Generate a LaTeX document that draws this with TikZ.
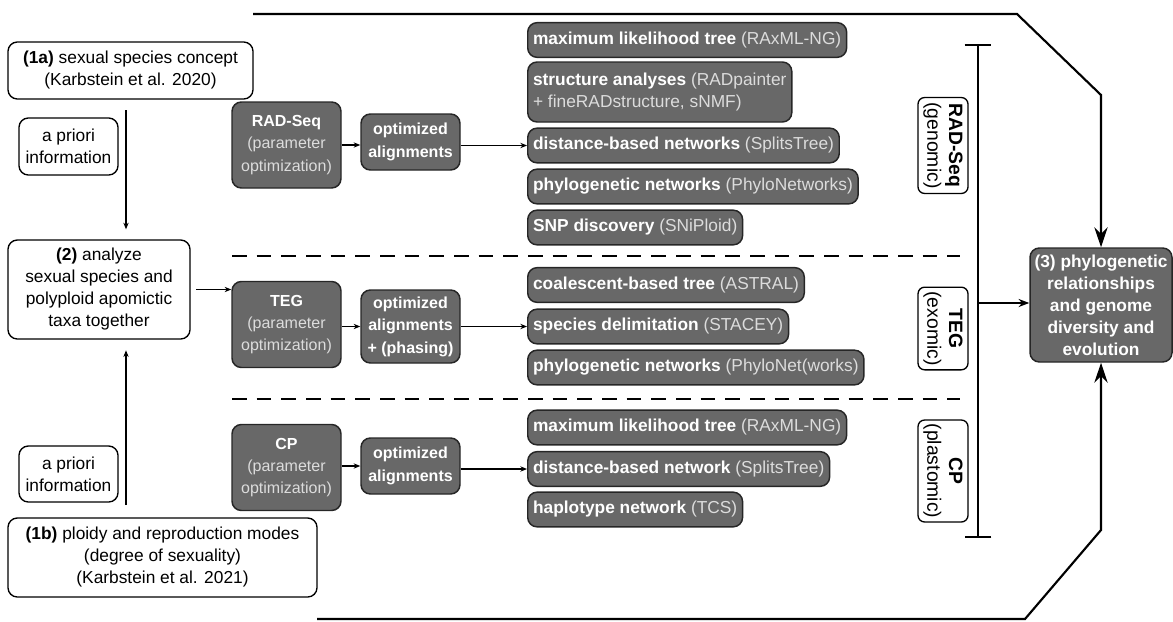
\documentclass[tikz,border=0pt]{standalone}
\usepackage{fontspec}
\setmainfont{Liberation Sans}
\usetikzlibrary{arrows.meta,positioning}
\definecolor{boxgray}{RGB}{104,104,104}
\definecolor{softgray}{RGB}{220,220,220}
\newcommand{\prog}[1]{\textcolor{softgray}{\mdseries #1}}

\begin{document}
\begin{tikzpicture}[x = 0.75pt, y = -0.75pt, > = {Stealth[length=5pt,width=4pt]},
	every node/.style = {font=\fontsize{13}{16.5}\selectfont},
	whitebox/.style = {draw, rounded corners=7pt, line width=1pt, fill=white, align=center, inner sep=2pt},
	graybox/.style = {draw=black!85, rounded corners=7pt, line width=1.1pt, fill=boxgray, text=white, align=center, inner sep=2pt, font=\fontsize{13}{16.5}\selectfont\bfseries},
	stagebox/.style = {graybox, font=\fontsize{12}{16.8}\selectfont\bfseries},
	toolbox/.style = {graybox, anchor=west, align=left, minimum height=26pt, inner xsep=4pt},
	tagbox/.style = {whitebox, rotate=-90, rounded corners=5pt, minimum height=37.5pt, font=\fontsize{14.5}{16.3}\selectfont},
	link/.style = {->, line width=0.8pt},
	sep/.style = {line width=1.5pt, dash pattern=on 11pt off 7.5pt},
	big/.style = {line width=1.6pt, -{Stealth[length=15pt,width=10pt,inset=5pt]}}]
	\useasboundingbox (0,0) rectangle (1173,621);
	% left column
	\node[whitebox, minimum width=183.75pt, minimum height=42.75pt] (s1a) at (130.5,70.5) {\textbf{(1a)} sexual species concept\\(Karbstein et al. 2020)};
	\node[whitebox, minimum width=74.25pt, minimum height=42.75pt] (p1) at (68.5,146.5) {a priori\\information};
	\node[whitebox, minimum width=136.5pt, minimum height=74.25pt] (s2) at (99,289.5) {\textbf{(2)} analyze\\sexual species and\\polyploid apomictic\\taxa together};
	\node[whitebox, minimum width=74.25pt, minimum height=42pt] (p2) at (68.5,474) {a priori\\information};
	\node[whitebox, minimum width=231.75pt, minimum height=59.25pt] (s1b) at (162.5,557.5) {\textbf{(1b)} ploidy and reproduction modes\\(degree of sexuality)\\(Karbstein et al. 2021)};
	\coordinate (u1) at (126,110);
	\coordinate (u2) at (126,505);
	\draw[link, shorten >=7.5pt] (u1) -- (u1 |- s2.north);
	\draw[link, shorten >=8pt] (u2) -- (u2 |- s2.south);
	% data sets
	\node[stagebox, minimum width=81.75pt, minimum height=64.5pt] (rad) at (286.5,145) {RAD-Seq\\\prog{(parameter}\\\prog{optimization)}};
	\node[stagebox, minimum width=81.75pt, minimum height=64.5pt] (teg) at (286.5,324.5) {TEG\\\prog{(parameter}\\\prog{optimization)}};
	\node[stagebox, minimum width=81.75pt, minimum height=64.5pt] (cp) at (286.5,467.5) {CP\\\prog{(parameter}\\\prog{optimization)}};
	\node[stagebox, minimum width=74.25pt, minimum height=42pt] (orad) at (410.5,142) {optimized\\alignments};
	\node[stagebox, minimum width=74.25pt, minimum height=54.75pt] (oteg) at (410.5,326.5) {optimized\\alignments\\+ (phasing)};
	\node[stagebox, minimum width=74.25pt, minimum height=42pt] (ocp) at (410.5,466) {optimized\\alignments};
	% analyses
	\node[toolbox] (r1) at (527,40) {maximum likelihood tree \prog{(RAxML-NG)}};
	\node[toolbox, minimum height=45pt] (r2) at (527,92) {structure analyses \prog{(RADpainter}\\\prog{+ fineRADstructure, sNMF)}};
	\node[toolbox] (r3) at (527,145.5) {distance-based networks \prog{(SplitsTree)}};
	\node[toolbox] (r4) at (527,186.5) {phylogenetic networks \prog{(PhyloNetworks)}};
	\node[toolbox] (r5) at (527,227.5) {SNP discovery \prog{(SNiPloid)}};
	\node[toolbox] (t1) at (527,285) {coalescent-based tree \prog{(ASTRAL)}};
	\node[toolbox] (t2) at (527,326.5) {species delimitation \prog{(STACEY)}};
	\node[toolbox] (t3) at (527,367.5) {phylogenetic networks \prog{(PhyloNet(works)}};
	\node[toolbox] (c1) at (527,427.5) {maximum likelihood tree \prog{(RAxML-NG)}};
	\node[toolbox] (c2) at (527,469) {distance-based network \prog{(SplitsTree)}};
	\node[toolbox] (c3) at (527,509.5) {haplotype network \prog{(TCS)}};
	\draw[link] ([xshift=4pt]s2.east) -- (s2.east -| teg.west);
	\draw[link] (rad.east) -- (rad.east -| orad.west);
	\draw[link] (teg.east |- oteg.west) -- (oteg.west);
	\draw[link] (cp.east |- ocp.west) -- (ocp.west);
	\draw[link] (orad.east |- r3.west) -- (r3.west);
	\draw[link] (oteg.east |- t2.west) -- (t2.west);
	\draw[link] (ocp.east |- c2.west) -- (c2.west);
	% separators
	\coordinate (d1) at (232,256);
	\coordinate (d2) at (232,399);
	\draw[sep] (d1) -- ++(728,0);
	\draw[sep] (d2) -- ++(728,0);
	% tags and result
	\node[tagbox, minimum width=72pt] (trad) at (943,145.5) {\textbf{RAD-Seq}\\(genomic)};
	\node[tagbox, minimum width=62pt] (tteg) at (943,328.5) {\textbf{TEG}\\(exomic)};
	\node[tagbox, minimum width=76.5pt] (tcp) at (943,471) {\textbf{CP}\\(plastomic)};
	\node[graybox, minimum width=106.5pt, minimum height=85.5pt] (res) at (1101,305) {(3) phylogenetic\\relationships\\and genome\\diversity and\\evolution};
	\coordinate (bt) at (978,44);
	\coordinate (bb) at (978,538);
	\coordinate (bm) at (978,303);
	\draw[line width=1.5pt, {Bar[width=20pt]}-{Bar[width=20pt]}] (bt) -- (bb);
	\draw[line width=1.5pt, -{Stealth[length=8pt,width=6pt]}] (bm) -- (bm -| res.west);
	% frame
	\coordinate (tl) at (253,14);
	\coordinate (tr) at (1017,14);
	\coordinate (tk) at (1101,95);
	\coordinate (bl) at (317,619);
	\coordinate (br) at (1025,619);
	\coordinate (bk) at (1101,530);
	\draw[big] (tl) -- (tr) -- (tk) -- (res.north);
	\draw[big] (bl) -- (br) -- (bk) -- (res.south);
\end{tikzpicture}
\end{document}
